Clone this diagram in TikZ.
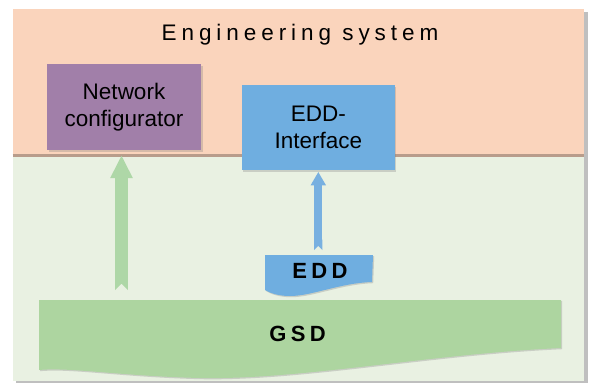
\documentclass[tikz,border=0pt]{standalone}
\usepackage{fontspec}
\setmainfont{Liberation Sans}
\usetikzlibrary{arrows.meta,shadows}
\definecolor{peach}{HTML}{FAD4BC}
\definecolor{paleg}{HTML}{E9F1E2}
\definecolor{purp}{HTML}{A17FA9}
\definecolor{bluebox}{HTML}{6FAEE0}
\definecolor{gsdg}{HTML}{ADD5A0}
\definecolor{arrg}{HTML}{AED7A7}
\definecolor{arrb}{HTML}{78B0E0}
\definecolor{seam}{HTML}{B89C8B}
\begin{document}
\begin{tikzpicture}[x=1pt,y=-1pt,
  panel/.style={draw=none,inner sep=0pt,anchor=north west},
  box/.style={draw=none,inner sep=0pt,align=center,
    font=\fontsize{22.5}{27}\selectfont,
    drop shadow={shadow xshift=1.5pt,shadow yshift=-1.5pt,opacity=0.3}},
  spaced/.style={inner sep=0pt,font=\fontsize{22.5}{26}\selectfont\addfontfeature{LetterSpace=22}},
  boldspaced/.style={inner sep=0pt,font=\fontsize{22}{26}\selectfont\bfseries\addfontfeature{LetterSpace=20}},
  garrow/.style={arrg,line width=12.6pt,{Triangle Cap[reversed]}-{Triangle[width=21pt,length=23pt]}},
  barrow/.style={arrb,line width=8.3pt,{Triangle Cap[reversed]}-{Triangle[width=14.5pt,length=13.5pt]}},
  doc/.style={drop shadow={shadow xshift=1.2pt,shadow yshift=-1.2pt,opacity=0.3}}
]
\useasboundingbox (0,0) rectangle (591,383);
% frame
\fill[black!25] (16,12) rectangle (588,383);
\node[panel,fill=peach,minimum width=571.3pt,minimum height=146pt] (eng) at (12.7,9) {};
\node[panel,fill=paleg,minimum width=571.3pt,minimum height=226pt] (dev) at (12.7,155) {};
\draw[seam,line width=2.5pt] (eng.south west) -- (eng.south east);
\node[spaced] (title) at (300,34.5) {Engineering system};
% boxes
\node[box,fill=purp,minimum width=154pt,minimum height=86pt] (net) at (124,107)
  {Network\\configurator};
\node[box,fill=bluebox,minimum width=153pt,minimum height=85pt] (eddi) at (318.3,127.5)
  {EDD-\\Interface};
% GSD shape
\fill[gsdg,doc] (39,300) -- (561,300) -- (561,348)
  .. controls (430,354) and (300,380) .. (200,378)
  .. controls (120,376) and (70,367) .. (39,370) -- cycle;
\node[boldspaced] (gsd) at (297.5,334) {GSD};
% EDD shape
\fill[bluebox,doc] (265,255) -- (373,255) -- (372,282)
  .. controls (340,283) and (312,296) .. (290,296)
  .. controls (278,296) and (270,293) .. (265,290) -- cycle;
\node[boldspaced] (edd) at (320,271) {EDD};
% arrows
\coordinate (gtail) at (121.5,290);
\coordinate (btail) at (318.3,255);
\draw[garrow,shorten <=0pt,shorten >=5pt] (gtail) -- (gtail |- net.south);
\draw[barrow,shorten <=5pt,shorten >=1.7pt] (btail) -- (btail |- eddi.south);
\end{tikzpicture}
\end{document}
